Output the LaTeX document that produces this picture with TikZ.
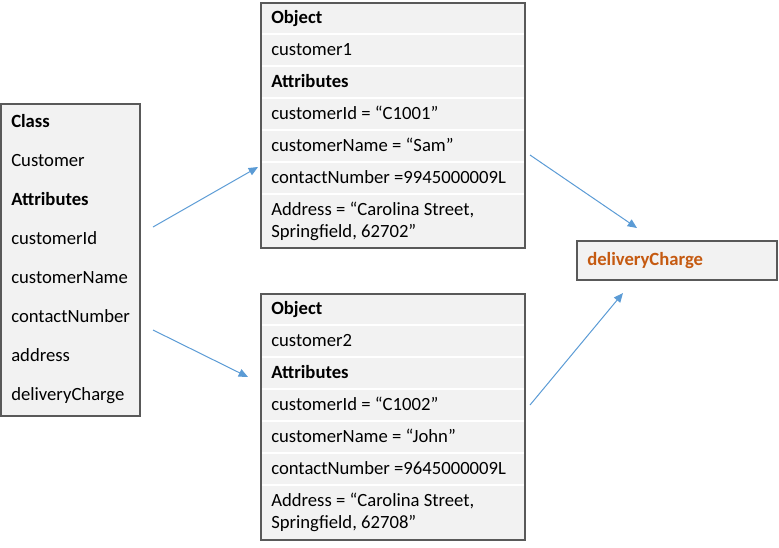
\documentclass[tikz,border=0pt]{standalone}
\usepackage{fontspec}
\setmainfont{Carlito}
\usetikzlibrary{arrows.meta}
\definecolor{boxfill}{HTML}{F2F2F2}
\definecolor{boxline}{HTML}{595959}
\definecolor{linkblue}{HTML}{5B9BD5}
\definecolor{chargeorange}{HTML}{C55A11}
\begin{document}
\begin{tikzpicture}[x=0.75pt,y=-0.75pt,
  box/.style={draw=boxline,fill=boxfill,line width=0.9pt},
  rowsep/.style={draw=white,line width=1.5pt},
  txt/.style={anchor=base west,inner sep=0pt,align=left,font=\fontsize{14}{16}\selectfont},
  hd/.style={txt,font=\fontsize{14}{16}\selectfont\bfseries},
  link/.style={draw=linkblue,line width=0.75pt,-{Triangle[length=7pt,width=6pt]}}]
\useasboundingbox (0,0) rectangle (779,547);

\draw[box] (1,104) rectangle (140,416);
\node[hd] (clsHead) at (11,127) {Class};
\node[txt] (clsName) at (11,166) {Customer};
\node[hd] (clsAttr) at (11,205) {Attributes};
\node[txt] (clsId) at (11,244) {customerId};
\node[txt] (clsCName) at (11,283) {customerName};
\node[txt] (clsContact) at (11,322) {contactNumber};
\node[txt] (clsAddr) at (11,361) {address};
\node[txt] (clsCharge) at (11,400) {deliveryCharge};

\draw[box] (261,3) rectangle (525,248);
\draw[rowsep] (262,34) -- (524,34);
\draw[rowsep] (262,66) -- (524,66);
\draw[rowsep] (262,98) -- (524,98);
\draw[rowsep] (262,130) -- (524,130);
\draw[rowsep] (262,162) -- (524,162);
\draw[rowsep] (262,194) -- (524,194);
\node[hd] (objAHead) at (271,23) {Object};
\node[txt] (objAName) at (271,55) {customer1};
\node[hd] (objAAttr) at (271,87) {Attributes};
\node[txt] (objAId) at (271,119) {customerId = “C1001”};
\node[txt] (objACName) at (271,151) {customerName = “Sam”};
\node[txt] (objAContact) at (271,183) {contactNumber =9945000009L};
\node[txt] (objAAddr) at (271,237) {Address = “Carolina Street,\\Springfield, 62702”};

\draw[box] (261,294) rectangle (525,540);
\draw[rowsep] (262,325) -- (524,325);
\draw[rowsep] (262,357) -- (524,357);
\draw[rowsep] (262,389) -- (524,389);
\draw[rowsep] (262,421) -- (524,421);
\draw[rowsep] (262,453) -- (524,453);
\draw[rowsep] (262,485) -- (524,485);
\node[hd] (objBHead) at (271,314) {Object};
\node[txt] (objBName) at (271,346) {customer2};
\node[hd] (objBAttr) at (271,378) {Attributes};
\node[txt] (objBId) at (271,410) {customerId = “C1002”};
\node[txt] (objBCName) at (271,442) {customerName = “John”};
\node[txt] (objBContact) at (271,474) {contactNumber =9645000009L};
\node[txt] (objBAddr) at (271,528) {Address = “Carolina Street,\\Springfield, 62708”};

\draw[box] (577,241) rectangle (777,280);
\node[hd,text=chargeorange] (charge) at (587,265) {deliveryCharge};

\coordinate (linkAFrom) at (153,227);
\coordinate (linkATo) at (258,167);
\coordinate (linkBFrom) at (153,330);
\coordinate (linkBTo) at (248,377);
\coordinate (linkCFrom) at (530,155);
\coordinate (linkCTo) at (637,228);
\coordinate (linkDFrom) at (530,405);
\coordinate (linkDTo) at (623,293);
\draw[link] (linkAFrom) -- (linkATo);
\draw[link] (linkBFrom) -- (linkBTo);
\draw[link] (linkCFrom) -- (linkCTo);
\draw[link] (linkDFrom) -- (linkDTo);
\end{tikzpicture}
\end{document}
